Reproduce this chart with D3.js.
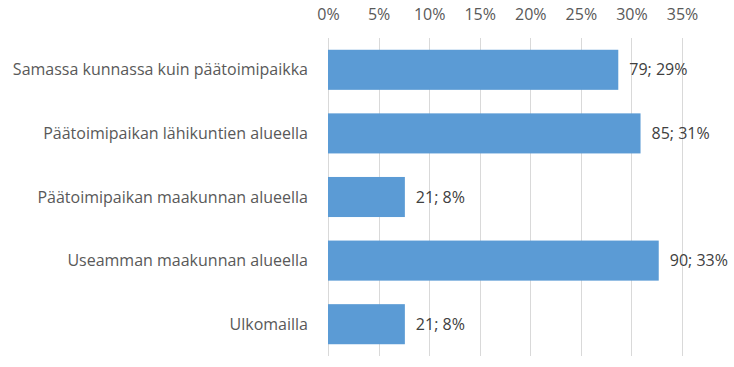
<!DOCTYPE html>
<html>
<head>
<meta charset="utf-8">
<script src="https://cdn.jsdelivr.net/npm/d3@7"></script>
<style>
  body { margin: 0; background: #fff; }
  text { font-family: "Open Sans", sans-serif; }
</style>
</head>
<body>
<div id="chart"></div>
<script>
// data
var categories = ["Samassa kunnassa kuin päätoimipaikka", "Päätoimipaikan lähikuntien alueella",
  "Päätoimipaikan maakunnan alueella", "Useamman maakunnan alueella", "Ulkomailla"];
var counts = [79, 85, 21, 90, 21];
var shares = [28.7, 30.9, 7.6, 32.7, 7.6];   // percent, bar length
var shareLabels = ["29%", "31%", "8%", "33%", "8%"];
var ticks = [0, 5, 10, 15, 20, 25, 30, 35];

var width = 734, height = 367;
var margin = {top: 38, right: 52, bottom: 11, left: 328};

var svg = d3.select("#chart").append("svg")
  .attr("width", width).attr("height", height);

var x = d3.scaleLinear().domain([0, 35]).range([margin.left, width - margin.right]);
var y = d3.scaleBand().domain(categories)
  .range([margin.top, height - margin.bottom]).paddingInner(0.37).paddingOuter(0.185);

// gridlines
svg.append("g").selectAll("line").data(ticks).enter().append("line")
  .attr("x1", function(d){ return Math.round(x(d)) + 0.5; })
  .attr("x2", function(d){ return Math.round(x(d)) + 0.5; })
  .attr("y1", margin.top).attr("y2", height - margin.bottom)
  .attr("stroke", "#d9d9d9").attr("stroke-width", 1);

// top axis labels
var xAxis = d3.axisTop(x).tickValues(ticks).tickSize(0).tickPadding(0)
  .tickFormat(function(d){ return d + "%"; });
var ax = svg.append("g").attr("transform", "translate(0,20)").call(xAxis);
ax.select(".domain").remove();
ax.selectAll("text").attr("fill", "#595959").style("font-size", "16px")
  .style("font-family", "'Open Sans', sans-serif");

// bars
svg.append("g").selectAll("rect").data(categories).enter().append("rect")
  .attr("x", x(0))
  .attr("y", function(d){ return y(d); })
  .attr("width", function(d, i){ return x(shares[i]) - x(0); })
  .attr("height", y.bandwidth())
  .attr("fill", "#5b9bd5");

// category labels
svg.append("g").selectAll("text").data(categories).enter().append("text")
  .attr("x", 308)
  .attr("y", function(d){ return y(d) + y.bandwidth() / 2; })
  .attr("dy", "0.35em")
  .attr("text-anchor", "end")
  .attr("fill", "#595959")
  .style("font-size", "16px")
  .text(function(d){ return d; });

// data labels
svg.append("g").selectAll("text").data(categories).enter().append("text")
  .attr("x", function(d, i){ return x(shares[i]) + 11; })
  .attr("y", function(d){ return y(d) + y.bandwidth() / 2; })
  .attr("dy", "0.35em")
  .attr("fill", "#404040")
  .style("font-size", "16px")
  .text(function(d, i){ return counts[i] + "; " + shareLabels[i]; });
</script>
</body>
</html>
